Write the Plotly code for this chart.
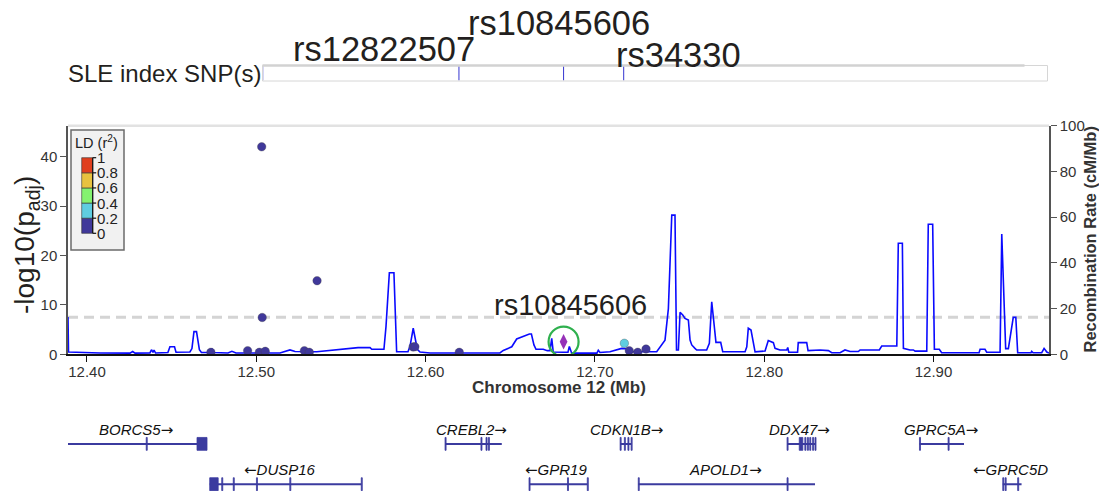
import plotly.graph_objects as go

W, H = 1099, 491
FONT = "Liberation Sans, Arial, Helvetica, sans-serif"
TEXT_DARK = "#231f20"


def px(x):
    return x / W


def py(y):
    return 1 - y / H


# plot frame (pixels)
PLOT_L, PLOT_R, PLOT_T, PLOT_B = 68, 1049, 125.7, 354.3
X_MIN, X_MAX = 12.3888, 12.9682

# ---------------- association results (chr12, Mb) ----------------
snp_pos = [12.5032, 12.5035, 12.5359, 12.4732, 12.4949, 12.5018, 12.5053, 12.5284,
           12.5313, 12.5926, 12.5937, 12.6199, 12.7174, 12.7203, 12.7253, 12.7302]
snp_logp = [42.0, 7.45, 14.9, 0.4, 0.73, 0.4, 0.6, 0.73,
            0.4, 1.5, 1.54, 0.4, 2.23, 0.73, 0.4, 1.07]
snp_r2 = [0.05, 0.05, 0.05, 0.05, 0.05, 0.05, 0.05, 0.05,
          0.05, 0.05, 0.05, 0.05, 0.3, 0.05, 0.05, 0.05]

lead_name = "rs10845606"
lead_pos = 12.6815
lead_logp = 2.55

gws_threshold = 7.5
p_axis_max = 46.27
p_ticks = [0, 10, 20, 30, 40]
rec_ticks = [0, 20, 40, 60, 80, 100]
x_ticks = [12.40, 12.50, 12.60, 12.70, 12.80, 12.90]

# LD colour bins
ld_breaks = [0, 0.2, 0.4, 0.6, 0.8, 1.0]
ld_colors = ["#40389a", "#5fcde0", "#84f26f", "#e8c23f", "#e03f1e"]
ld_labels = ["0", "0.2", "0.4", "0.6", "0.8", "1"]

# ---------------- recombination rate (cM/Mb) ----------------
rec_pos = [12.3888, 12.3891, 12.4077, 12.4254, 12.4270, 12.4284, 12.4372, 12.4381, 12.4390, 12.4396,
           12.4405, 12.4478, 12.4490, 12.4517, 12.4526, 12.4608, 12.4620, 12.4632, 12.4647, 12.4664,
           12.4676, 12.4727, 12.4738, 12.4747, 12.4833, 12.4856, 12.4880, 12.5140, 12.5199, 12.5229,
           12.5357, 12.5514, 12.5601, 12.5672, 12.5682, 12.5754, 12.5766, 12.5786, 12.5813, 12.5829,
           12.5896, 12.5908, 12.5927, 12.5951, 12.5967, 12.6026, 12.6439, 12.6459, 12.6509, 12.6538,
           12.6577, 12.6613, 12.6625, 12.6640, 12.6652, 12.6695, 12.6719, 12.6735, 12.6745, 12.6754,
           12.6812, 12.6841, 12.6849, 12.6863, 12.7012, 12.7020, 12.7030, 12.7089, 12.7158, 12.7196,
           12.7207, 12.7365, 12.7414, 12.7434, 12.7454, 12.7473, 12.7482, 12.7493, 12.7503, 12.7519,
           12.7532, 12.7552, 12.7562, 12.7572, 12.7591, 12.7601, 12.7660, 12.7676, 12.7690, 12.7715,
           12.7743, 12.7755, 12.7887, 12.7897, 12.7906, 12.7922, 12.7946, 12.8005, 12.8024, 12.8054,
           12.8064, 12.8093, 12.8133, 12.8139, 12.8145, 12.8197, 12.8201, 12.8251, 12.8259, 12.8330,
           12.8379, 12.8399, 12.8448, 12.8477, 12.8507, 12.8556, 12.8566, 12.8680, 12.8694, 12.8783,
           12.8792, 12.8816, 12.8822, 12.8861, 12.8881, 12.8891, 12.8960, 12.8969, 12.8995, 12.9005,
           12.9034, 12.9048, 12.9196, 12.9269, 12.9275, 12.9304, 12.9314, 12.9393, 12.9403, 12.9426,
           12.9442, 12.9471, 12.9486, 12.9497, 12.9576, 12.9580, 12.9588, 12.9639, 12.9653, 12.9669,
           12.9682]
rec_rate = [16.3, 1.0, 0.6, 0.5, 1.2, 0.5, 0.6, 2.0, 0.8, 1.8,
            0.6, 0.8, 3.3, 3.3, 0.9, 1.0, 2.5, 9.9, 9.9, 2.0,
            0.8, 0.8, 2.5, 0.8, 0.6, 1.3, 0.6, 0.6, 1.9, 1.2,
            1.1, 2.2, 2.9, 2.9, 2.2, 2.2, 12.0, 35.7, 35.7, 1.1,
            1.1, 3.5, 11.4, 2.2, 1.0, 0.6, 0.6, 1.7, 3.3, 6.7,
            8.0, 8.9, 8.9, 4.1, 2.2, 2.2, 1.6, 1.6, 7.0, 1.0,
            0.9, 0.9, 3.4, 0.5, 0.5, 1.8, 0.8, 1.1, 2.6, 2.4,
            1.1, 1.1, 6.2, 20.0, 60.9, 60.9, 1.9, 1.9, 18.4, 17.2,
            15.7, 15.0, 6.2, 4.1, 2.6, 1.9, 1.9, 4.8, 23.0, 5.2,
            5.2, 1.1, 1.1, 3.3, 11.4, 10.6, 1.1, 1.4, 6.0, 5.1,
            2.6, 1.9, 1.9, 3.0, 0.9, 0.9, 5.1, 5.1, 1.6, 1.9,
            1.6, 0.7, 0.7, 1.9, 1.2, 1.2, 1.9, 1.9, 3.6, 3.6,
            48.6, 48.6, 2.6, 1.9, 1.9, 1.4, 1.4, 56.9, 56.9, 2.2,
            2.2, 0.7, 0.7, 0.7, 2.2, 2.2, 0.9, 0.9, 52.6, 2.5,
            2.5, 16.2, 16.2, 0.7, 0.7, 1.3, 0.7, 0.7, 2.6, 1.0,
            0.5]

# ---------------- index SNP track ----------------
index_snp_pos = [12.5038, 12.6197, 12.6815, 12.7170]
index_label_names = ["rs12822507", "rs10845606", "rs34330"]
index_label_x = [12.5753, 12.6788, 12.7491]
index_label_ypx = [49.2, 22.5, 55.0]

# ---------------- genes ----------------
gene_names = ["BORCS5", "CREBL2", "CDKN1B", "DDX47", "GPRC5A",
              "DUSP16", "GPR19", "APOLD1", "GPRC5D"]
gene_start = [12.3880, 12.6115, 12.7149, 12.8135, 12.8917,
              12.4725, 12.6611, 12.7256, 12.9409]
gene_end = [12.4709, 12.6450, 12.7215, 12.8301, 12.9180,
            12.5621, 12.6956, 12.8300, 12.9520]
gene_strand = ["+", "+", "+", "+", "+", "-", "-", "+", "-"]
gene_row = [1, 1, 1, 1, 1, 2, 2, 2, 2]
gene_label_x = [12.4288, 12.6274, 12.7186, 12.8211, 12.9044,
                12.5143, 12.6770, 12.7774, 12.9452]
gene_exons = [
    [(12.4350, 12.4350), (12.4650, 12.4709)],
    [(12.6115, 12.6115), (12.6327, 12.6327), (12.6357, 12.6357), (12.6371, 12.6371)],
    [(12.7149, 12.7149), (12.7174, 12.7174), (12.7195, 12.7195), (12.7214, 12.7214)],
    [(12.8135, 12.8135), (12.8207, 12.8228), (12.8240, 12.8240), (12.8255, 12.8255),
     (12.8269, 12.8269), (12.8286, 12.8286), (12.8300, 12.8300)],
    [(12.8917, 12.8917), (12.9086, 12.9092)],
    [(12.4725, 12.4775), (12.4796, 12.4796), (12.4864, 12.4864), (12.5001, 12.5001),
     (12.5198, 12.5203), (12.5620, 12.5620)],
    [(12.6611, 12.6611), (12.6838, 12.6838), (12.6955, 12.6955)],
    [(12.7256, 12.7256), (12.8135, 12.8135)],
    [(12.9409, 12.9409), (12.9423, 12.9423), (12.9497, 12.9500)],
]
GENE_COLOR = "#3b3b9f"
ARROW_FONT = "DejaVu Sans"


def ld_color(r2):
    for i in range(len(ld_colors)):
        if r2 < ld_breaks[i + 1] or i == len(ld_colors) - 1:
            return ld_colors[i]


fig = go.Figure()

# recombination rate (base y axis, right side)
fig.add_trace(go.Scatter(
    x=rec_pos, y=rec_rate, mode="lines", xaxis="x", yaxis="y",
    line=dict(color="#0a0aff", width=1.6), hoverinfo="skip", showlegend=False))

# association points (overlaid axis, left side)
fig.add_trace(go.Scatter(
    x=snp_pos, y=snp_logp, mode="markers", xaxis="x", yaxis="y2",
    marker=dict(size=8.5, color=[ld_color(r) for r in snp_r2],
                line=dict(color="rgba(70,70,70,0.55)", width=0.6)),
    showlegend=False))

# lead SNP
fig.add_trace(go.Scatter(
    x=[lead_pos], y=[lead_logp], mode="markers", xaxis="x", yaxis="y2",
    marker=dict(symbol="diamond-tall", size=11, color="#9632b8", line=dict(width=0)),
    showlegend=False))
fig.add_trace(go.Scatter(
    x=[lead_pos], y=[lead_logp], mode="markers", xaxis="x", yaxis="y2",
    marker=dict(symbol="circle-open", size=30, color="#2fb04e", line=dict(width=2.2)),
    showlegend=False))

# index SNP ticks in the top track
tx, ty = [], []
for p in index_snp_pos:
    tx += [p, p, None]
    ty += [0.04, 0.96, None]
fig.add_trace(go.Scatter(
    x=tx, y=ty, mode="lines", xaxis="x3", yaxis="y4",
    line=dict(color="#3535d0", width=1), hoverinfo="skip", showlegend=False))

# gene bodies
for name, s, e, row in zip(gene_names, gene_start, gene_end, gene_row):
    fig.add_trace(go.Scatter(
        x=[s, e], y=[row, row], mode="lines", xaxis="x2", yaxis="y3",
        line=dict(color=GENE_COLOR, width=2), hoverinfo="skip", showlegend=False))

# exons
ex_x, ex_y = [], []
half_h = 0.16
min_w = 0.0006
for exons, row in zip(gene_exons, gene_row):
    for a, b in exons:
        b = max(b, a + min_w)
        ex_x += [a, b, b, a, a, None]
        ex_y += [row - half_h, row - half_h, row + half_h, row + half_h, row - half_h, None]
fig.add_trace(go.Scatter(
    x=ex_x, y=ex_y, mode="lines", fill="toself", fillcolor=GENE_COLOR,
    xaxis="x2", yaxis="y3", line=dict(color=GENE_COLOR, width=0.8),
    hoverinfo="skip", showlegend=False))

annotations = []
shapes = []

# gene labels
for name, lx, row, strand in zip(gene_names, gene_label_x, gene_row, gene_strand):
    if strand == "+":
        label = f"<i>{name}</i><span style='font-family:{ARROW_FONT}'>\u2192</span>"
    else:
        label = f"<span style='font-family:{ARROW_FONT}'>\u2190</span><i>{name}</i>"
    annotations.append(dict(
        x=lx, y=row - 0.34, xref="x2", yref="y3", text=label,
        showarrow=False, xanchor="center", yanchor="middle",
        font=dict(family=FONT, size=15, color="#111")))

# genome-wide significance line
shapes.append(dict(type="line", xref="x", yref="y2", x0=X_MIN, x1=X_MAX,
                   y0=gws_threshold, y1=gws_threshold, layer="below",
                   line=dict(color="#d4d4d4", width=3, dash="10px,6px")))

# light frame line along the top of the plot
shapes.append(dict(type="line", xref="paper", yref="paper",
                   x0=px(PLOT_L), x1=px(PLOT_R), y0=py(PLOT_T), y1=py(PLOT_T),
                   line=dict(color="#e2e2e2", width=2.5)))

# index SNP track frame
shapes.append(dict(type="rect", xref="paper", yref="paper",
                   x0=px(262.5), x1=px(1047.5), y0=py(81), y1=py(65.5),
                   line=dict(color="#d6d6d6", width=1), fillcolor="rgba(0,0,0,0)"))
shapes.append(dict(type="line", xref="paper", yref="paper",
                   x0=px(262.5), x1=px(1024.5), y0=py(65.5), y1=py(65.5),
                   line=dict(color="#d2d2d2", width=2.5)))

annotations.append(dict(
    x=px(66), y=py(74), xref="paper", yref="paper", text="SLE index SNP(s)",
    showarrow=False, xanchor="left", yanchor="middle",
    font=dict(family=FONT, size=24, color=TEXT_DARK)))

for name, lx, ly in zip(index_label_names, index_label_x, index_label_ypx):
    annotations.append(dict(
        x=lx, y=py(ly), xref="x", yref="paper", text=name, showarrow=False,
        xanchor="center", yanchor="middle",
        font=dict(family=FONT, size=34.5, color=TEXT_DARK)))

# lead SNP label inside the plot
annotations.append(dict(
    x=12.6857, y=9.9, xref="x", yref="y2", text=lead_name, showarrow=False,
    xanchor="center", yanchor="middle",
    font=dict(family=FONT, size=29, color=TEXT_DARK)))

# axis titles
annotations.append(dict(
    x=px(26), y=py(245), xref="paper", yref="paper", text="-log10(p<sub>adj</sub>)",
    textangle=-90, showarrow=False, xanchor="center", yanchor="middle",
    font=dict(family=FONT, size=28, color=TEXT_DARK)))
annotations.append(dict(
    x=px(1089.5), y=py((PLOT_T + PLOT_B) / 2), xref="paper", yref="paper",
    text="<b>Recombination Rate (cM/Mb)</b>", textangle=-90, showarrow=False,
    xanchor="center", yanchor="middle", font=dict(family=FONT, size=16.5, color="#333")))
annotations.append(dict(
    x=px((PLOT_L + PLOT_R) / 2), y=py(387), xref="paper", yref="paper",
    text="<b>Chromosome 12 (Mb)</b>", showarrow=False, xanchor="center",
    yanchor="middle", font=dict(family=FONT, size=17, color="#333")))

# LD legend
LG_L, LG_R, LG_T, LG_B = 71, 124, 130, 250
BAR_L, BAR_R, BAR_T, BAR_B = 81.7, 92.7, 157.7, 233.3
shapes.append(dict(type="rect", xref="paper", yref="paper",
                   x0=px(LG_L), x1=px(LG_R), y0=py(LG_B), y1=py(LG_T),
                   fillcolor="#f1f1f1", line=dict(color="#6b6b6b", width=1.5)))


def bar_y(v):
    return BAR_B - (BAR_B - BAR_T) * v


for i, col in enumerate(ld_colors):
    shapes.append(dict(type="rect", xref="paper", yref="paper",
                       x0=px(BAR_L), x1=px(BAR_R),
                       y0=py(bar_y(ld_breaks[i])), y1=py(bar_y(ld_breaks[i + 1])),
                       fillcolor=col, line=dict(color="#333", width=0.6)))
shapes.append(dict(type="line", xref="paper", yref="paper",
                   x0=px(BAR_R), x1=px(BAR_R), y0=py(BAR_B), y1=py(BAR_T),
                   line=dict(color="#111", width=1.2)))
for v, lab in zip(ld_breaks, ld_labels):
    yy = bar_y(v)
    shapes.append(dict(type="line", xref="paper", yref="paper",
                       x0=px(BAR_R), x1=px(BAR_R + 3.5), y0=py(yy), y1=py(yy),
                       line=dict(color="#111", width=1.2)))
    annotations.append(dict(
        x=px(BAR_R + 2), y=py(yy), xref="paper", yref="paper", text=lab,
        showarrow=False, xanchor="left", yanchor="middle",
        font=dict(family=FONT, size=15, color="#222")))
annotations.append(dict(
    x=px(96), y=py(142), xref="paper", yref="paper", text="LD (r<sup>2</sup>)",
    showarrow=False, xanchor="center", yanchor="middle",
    font=dict(family=FONT, size=14.5, color="#222")))

main_domain = [py(PLOT_B), py(PLOT_T)]
x_domain = [px(PLOT_L), px(PLOT_R)]
tick_font = dict(family=FONT, size=15, color="#333")

fig.update_layout(
    width=W, height=H,
    margin=dict(l=0, r=0, t=0, b=0, pad=0),
    paper_bgcolor="white", plot_bgcolor="rgba(0,0,0,0)",
    showlegend=False,
    xaxis=dict(domain=x_domain, range=[X_MIN, X_MAX], anchor="y",
               showline=True, linecolor="#111", linewidth=1.5,
               ticks="outside", ticklen=6, tickwidth=1.3, tickcolor="#111",
               tickvals=x_ticks, ticktext=[f"{t:.2f}" for t in x_ticks],
               ticklabelstandoff=-3,
               tickfont=tick_font, showgrid=False, zeroline=False, automargin=False),
    yaxis=dict(domain=main_domain, range=[0, 100], side="right", anchor="x",
               showline=True, linecolor="#555", linewidth=1.5,
               ticks="outside", ticklen=6, tickwidth=1.3, tickcolor="#555",
               tickvals=rec_ticks, tickfont=tick_font, showgrid=False,
               zeroline=False, automargin=False),
    yaxis2=dict(overlaying="y", side="left", anchor="x", range=[0, p_axis_max],
                showline=True, linecolor="#555", linewidth=1.5,
                ticks="outside", ticklen=6, tickwidth=1.3, tickcolor="#555",
                tickvals=p_ticks, tickfont=tick_font, showgrid=False,
                zeroline=False, automargin=False),
    xaxis2=dict(domain=x_domain, matches="x", anchor="y3", visible=False),
    yaxis3=dict(domain=[0, py(392.8)], range=[2.169, -0.268], anchor="x2",
                visible=False),
    xaxis3=dict(domain=x_domain, matches="x", anchor="y4", visible=False),
    yaxis4=dict(domain=[py(81), py(65.5)], range=[0, 1], anchor="x3", visible=False),
    shapes=shapes,
    annotations=annotations,
)

fig.write_html("out.html")
